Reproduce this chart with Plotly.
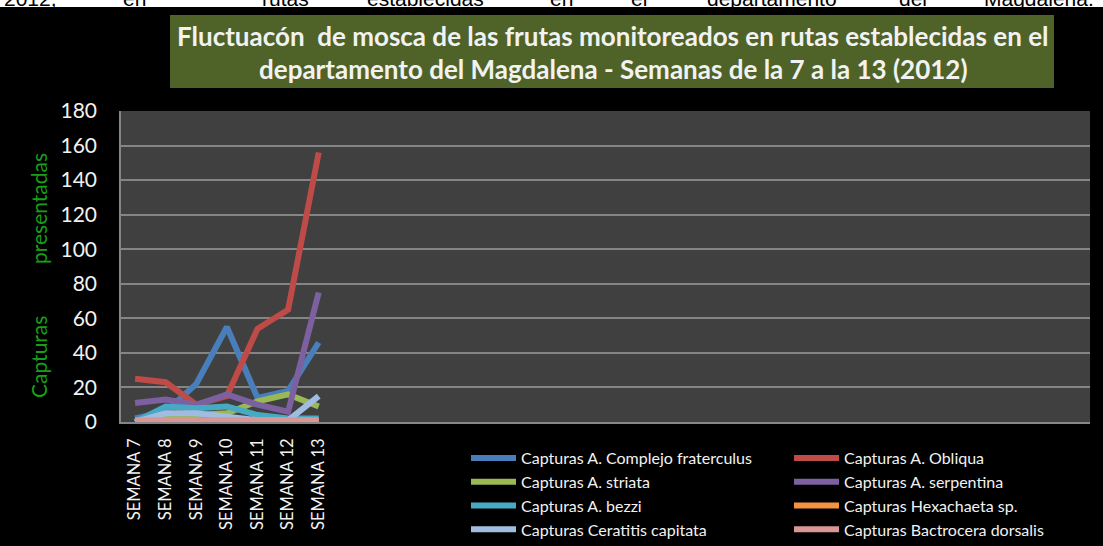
import plotly.graph_objects as go

weeks = ["SEMANA 7", "SEMANA 8", "SEMANA 9", "SEMANA 10", "SEMANA 11", "SEMANA 12", "SEMANA 13"]
series_names = [
    "Capturas A. Complejo fraterculus",
    "Capturas A. Obliqua",
    "Capturas A. striata",
    "Capturas A. serpentina",
    "Capturas A. bezzi",
    "Capturas Hexachaeta sp.",
    "Capturas Ceratitis capitata",
    "Capturas Bactrocera dorsalis",
]
fraterculus = [2, 6, 22, 55, 14, 18, 46]
obliqua = [25, 23, 10, 15, 54, 65, 156]
striata = [0, 2, 4, 5, 12, 16, 9]
serpentina = [11, 13, 10, 16, 10, 6, 75]
bezzi = [0, 9, 8, 9, 4, 2, 2]
hexachaeta = [0, 0, 0, 0, 0, 0, 0]
ceratitis = [0, 5, 5, 3, 1, 1, 15]
bactrocera = [1, 1, 1, 1, 1, 1, 1]
series_values = [fraterculus, obliqua, striata, serpentina, bezzi, hexachaeta, ceratitis, bactrocera]
colors = ["#4A7EBB", "#BE4B48", "#98B954", "#7D60A0", "#46AAC5", "#F69240", "#A0BCE0", "#D99694"]
y_ticks = [0, 20, 40, 60, 80, 100, 120, 140, 160, 180]

W, H = 1103, 546
L, R, T, B = 121, 1090, 111, 422


def px_x(p):
    return (p - L) / (R - L)


def px_y(p):
    return (B - p) / (B - T)


fig = go.Figure()
for i, (name, vals, col) in enumerate(zip(series_names, series_values, colors)):
    fig.add_trace(go.Scatter(x=weeks, y=vals, name=name, mode="lines",
                             line=dict(color=col, width=6),
                             legend="legend" if i % 2 == 0 else "legend2"))

legend_common = dict(orientation="v", yanchor="top", xanchor="left", itemwidth=45,
                     font=dict(family="Lato", size=16, color="#f2f2f2"),
                     bgcolor="rgba(0,0,0,0)", traceorder="normal", tracegroupgap=0)

fig.update_layout(
    width=W, height=H,
    margin=dict(l=L, r=W - R, t=T, b=H - B, autoexpand=False),
    paper_bgcolor="black",
    plot_bgcolor="#404040",
    showlegend=True,
    legend=dict(x=px_x(466), y=px_y(441), **legend_common),
    legend2=dict(x=px_x(789), y=px_y(441), **legend_common),
    xaxis=dict(type="category", range=[-0.46, 31.2], tickangle=-90,
               tickfont=dict(family="Lato", size=16.5, color="#f2f2f2"),
               showgrid=False, showline=True, linecolor="#868686", linewidth=1.5,
               ticks="", ticklabelstandoff=8, fixedrange=True),
    yaxis=dict(range=[0, 180], tickvals=y_ticks, ticktext=[str(v) for v in y_ticks],
               tickfont=dict(family="Lato", size=21, color="#f2f2f2"),
               showgrid=True, gridcolor="#858585", gridwidth=1.5,
               showline=True, linecolor="#868686", linewidth=1.5,
               zeroline=False, ticks="", ticklabelstandoff=18),
)

shapes = []
# white strip at the top with clipped text
shapes.append(dict(type="rect", xref="paper", yref="paper", x0=px_x(-5), x1=px_x(W + 5),
                   y0=px_y(7), y1=px_y(-5), fillcolor="white", line=dict(width=0), layer="below"))
# title box
shapes.append(dict(type="rect", xref="paper", yref="paper", x0=px_x(170), x1=px_x(1054),
                   y0=px_y(88), y1=px_y(15), fillcolor="#4F6228", line=dict(width=0)))
fig.update_layout(shapes=shapes)

annotations = []
top_words = [("2012,", 2), ("en", 121), ("rutas", 260), ("establecidas", 365), ("en", 548),
             ("el", 629), ("departamento", 705), ("del", 897), ("Magdalena.", 982)]
for word, x in top_words:
    annotations.append(dict(text=word, xref="paper", yref="paper", x=px_x(x), y=px_y(12),
                            xanchor="left", yanchor="bottom", showarrow=False,
                            font=dict(family="Liberation Sans", size=21, color="black")))
title_lines = ["Fluctuacón  de mosca de las frutas monitoreados en rutas establecidas en el",
               "departamento del Magdalena - Semanas de la 7 a la 13 (2012)"]
for line, yc in zip(title_lines, [36, 69]):
    annotations.append(dict(text="<b>" + line.replace("  ", "\u00a0 ") + "</b>", xref="paper", yref="paper",
                            x=px_x(613), y=px_y(yc), xanchor="center", yanchor="middle",
                            showarrow=False, font=dict(family="Lato", size=26, color="#f2f2f2")))
for word, yc in [("Capturas", 357), ("presentadas", 209)]:
    annotations.append(dict(text=word, xref="paper", yref="paper", x=px_x(38), y=px_y(yc),
                            xanchor="center", yanchor="middle", textangle=-90, showarrow=False,
                            font=dict(family="Lato", size=21, color="#17a017")))
fig.update_layout(annotations=annotations)

fig.write_html("out.html", config={"displayModeBar": False},
               post_script="document.body.style.margin='0';document.body.style.overflow='hidden';")
